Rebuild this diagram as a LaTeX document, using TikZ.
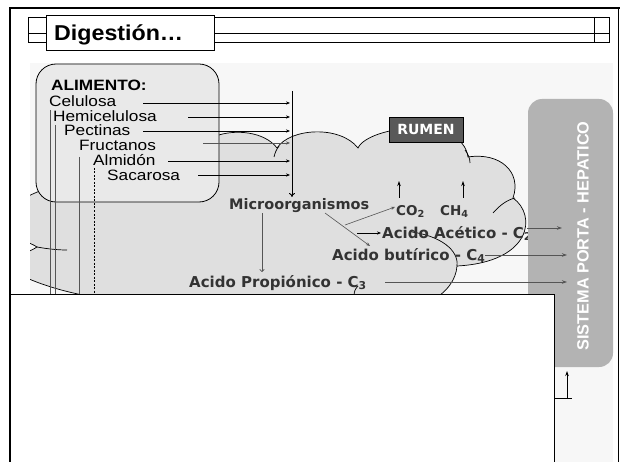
\documentclass[tikz,border=0pt]{standalone}
\usepackage{fontspec}
\usepackage{graphicx}
\usetikzlibrary{arrows.meta}
\newfontfamily\arialw{Liberation Sans}[FakeStretch=1.15]
\newfontfamily\arialt{Liberation Sans}[FakeStretch=1.08]
\newfontfamily\arialn{Liberation Sans}
\newfontfamily\verd{DejaVu Sans}
\definecolor{panel}{HTML}{F7F7F7}
\definecolor{boxfill}{HTML}{E9E9E9}
\definecolor{cloudfill}{HTML}{DFDFDF}
\definecolor{rumenfill}{HTML}{595959}
\definecolor{portafill}{HTML}{B3B3B3}
\definecolor{inkgray}{HTML}{333333}
\definecolor{linegray}{HTML}{555555}
\newcommand{\lowidx}[1]{\raisebox{-0.3ex}{\scalebox{0.72}{#1}}}
\tikzset{
  listtxt/.style={inner sep=0pt, anchor=base west, font=\arialw\fontsize{15}{16}\selectfont},
  acid/.style={inner sep=0pt, anchor=base west, text=inkgray, font=\verd\bfseries\fontsize{15}{17}\selectfont},
  feed/.style={draw=black, line width=0.7pt, -{Stealth[length=4pt,width=3.2pt]}},
  feedgray/.style={draw=linegray, line width=0.7pt, -{Stealth[length=4pt,width=3.2pt]}},
  drop/.style={draw=linegray, line width=0.7pt},
  cloudline/.style={draw=black, line width=0.7pt},
  outflow/.style={draw=linegray, line width=0.8pt, -{Stealth[length=5pt,width=3.5pt]}},
  gas/.style={draw=black, line width=0.9pt, -{Stealth[length=5pt,width=3.5pt]}},
}
\begin{document}
\begin{tikzpicture}[x=1pt,y=-1pt]
\useasboundingbox (0,0) rectangle (620,462);
\fill[white] (0,0) rectangle (620,462);

% slide panel
\fill[panel] (30,63) rectangle (613,462);

% slide frame
\draw[line width=1.2pt] (9,8) -- (620,8);
\draw[line width=2pt] (10,8) -- (10,462);
\draw[line width=0.8pt] (618.5,8) -- (618.5,462);

% title bar
\draw[line width=0.8pt] (28,17) rectangle (609,42);
\draw[line width=0.8pt] (28,33) -- (609,33);
\draw[line width=0.8pt] (594,17) -- (594,42);
\node[draw=black, line width=0.8pt, fill=white, minimum width=168pt, minimum height=35pt,
      inner sep=0pt] (title) at (130,32.5) {};
\node[inner sep=0pt, anchor=base west, font=\arialt\bfseries\fontsize{21.5}{24}\selectfont]
      (titletxt) at (54,41) {Digestión…};

% rumen cloud
\begin{scope}
\clip (30,63) rectangle (613,462);
\filldraw[cloudline, fill=cloudfill] (20,200) .. controls (60,180) and (170,140) .. (213,137)
  .. controls (235,128) and (265,132) .. (277,148)
  .. controls (290,128) and (340,125) .. (358,148)
  .. controls (368,126) and (462,114) .. (468,157)
  .. controls (500,152) and (522,172) .. (513,198)
  .. controls (537,215) and (532,262) .. (457,266)
  .. controls (456,280) and (447,292) .. (430,302)
  -- (300,320) -- (105,320) -- (100,298)
  .. controls (60,292) and (35,282) .. (20,275)
  -- (20,255) .. controls (28,252) and (34,249) .. (37,247)
  .. controls (34,245) and (28,242) .. (20,240) -- cycle;
\draw[cloudline] (274,157) .. controls (275,153) and (276,150) .. (279,146);
\draw[cloudline] (465,150) .. controls (468,154) and (470,158) .. (470,163);
\draw[cloudline] (493,213) .. controls (500,205) and (507,200) .. (515,198);
\draw[cloudline] (412,232) .. controls (440,236) and (459,250) .. (457,266);
\draw[cloudline] (354,296) .. controls (354,292) and (355,289) .. (358,286);
\draw[cloudline] (37,247) .. controls (48,249) and (58,250) .. (67,250);
\end{scope}

% feed box
\draw[line width=0.8pt, fill=boxfill, rounded corners=20pt] (36,64) rectangle (219,202);
\node[listtxt, font=\arialw\bfseries\fontsize{15}{16}\selectfont] (alim) at (51,91) {ALIMENTO:};
\node[listtxt] (cel) at (49,107) {Celulosa};
\node[listtxt] (hem) at (53,122) {Hemicelulosa};
\node[listtxt] (pec) at (64,136) {Pectinas};
\node[listtxt] (fru) at (79,151) {Fructanos};
\node[listtxt] (alm) at (93,166) {Almidón};
\node[listtxt] (sac) at (107,181) {Sacarosa};

% lines running down from the feed components
\coordinate (celD1) at (50,110);  \coordinate (celD2) at (50,300);
\coordinate (hemD1) at (55,125);  \coordinate (hemD2) at (55,300);
\coordinate (fruD1) at (79,157);  \coordinate (fruD2) at (79,300);
\coordinate (almD1) at (94,168);  \coordinate (almD2) at (94,300);
\draw[drop] (celD1) -- (celD2);
\draw[drop] (hemD1) -- (hemD2);
\draw[drop] (fruD1) -- (fruD2);
\draw[drop, dashed, dash pattern=on 2pt off 1.5pt, draw=black] (almD1) -- (almD2);

% feed arrows into the collector
\coordinate (busTop) at (292,91);
\coordinate (celA) at (143,103);  \coordinate (celB) at (290,103);
\coordinate (hemA) at (188,117);  \coordinate (hemB) at (290,117);
\coordinate (pecA) at (143,131);  \coordinate (pecB) at (290,131);
\coordinate (fruA) at (203,143);  \coordinate (fruB) at (290,143);
\coordinate (almA) at (168,161);  \coordinate (almB) at (290,161);
\coordinate (sacA) at (198,175);  \coordinate (sacB) at (290,175);
\draw[feed] (celA) -- (celB);
\draw[feed] (hemA) -- (hemB);
\draw[feed] (pecA) -- (pecB);
\draw[feedgray] (fruA) -- (fruB);
\draw[feed] (almA) -- (almB);
\draw[feed] (sacA) -- (sacB);
\coordinate (busEnd) at (292,197);
\draw[line width=0.9pt, -{To[length=4pt,width=6pt]}] (busTop) -- (busEnd);

% rumen label
\node[draw=black, line width=0.8pt, fill=rumenfill, text=white, minimum width=74pt,
      minimum height=25pt, inner sep=0pt, font=\verd\bfseries\fontsize{14}{16}\selectfont]
      (rumen) at (426,129.5) {RUMEN};

% fermentation products
\node[acid, font=\verd\bfseries\fontsize{14.5}{17}\selectfont] (mic) at (229,209) {Microorganismos};
\node[acid, font=\verd\bfseries\fontsize{13.5}{16}\selectfont] (co2) at (396,215) {CO\lowidx{2}};
\node[acid, font=\verd\bfseries\fontsize{13.5}{16}\selectfont] (ch4) at (440,215) {CH\lowidx{4}};
\node[acid] (ace) at (382,238) {Acido Acético - C\lowidx{2}};
\node[acid] (but) at (332,260) {Acido butírico - C\lowidx{4}};
\node[acid] (pro) at (189,287) {Acido Propiónico - C\lowidx{3}};

% arrows from the microorganisms
\coordinate (m1) at (262,213);  \coordinate (m1e) at (262,272);
\coordinate (m2) at (345,225);  \coordinate (m2e) at (395,207);
\coordinate (m3) at (325,213);  \coordinate (m3e) at (370,246);
\coordinate (m4) at (357,233);  \coordinate (m4e) at (381,233);
\draw[drop, -{To[length=3pt,width=5pt]}] (m1) -- (m1e);
\draw[feedgray, line width=0.6pt] (m2) -- (m2e);
\draw[feedgray, line width=0.6pt] (m3) -- (m3e);
\draw[feed, line width=0.7pt] (m4) -- (m4e);

% gases leaving
\coordinate (g1) at (399,198);  \coordinate (g1e) at (399,181);
\coordinate (g2) at (463,198);  \coordinate (g2e) at (463,181);
\draw[gas] (g1) -- (g1e);
\draw[gas] (g2) -- (g2e);

% portal system
\node[fill=portafill, rounded corners=14pt, minimum width=85pt, minimum height=268pt,
      inner sep=0pt] (porta) at (570.5,233) {};
\node[rotate=90, text=white, inner sep=0pt, font=\arialn\bfseries\fontsize{16.3}{18}\selectfont]
      (portatxt) at (583,236) {SISTEMA PORTA - HEPATICO};

% absorbed acids
\coordinate (aceO) at (527,228);  \coordinate (aceP) at (562,228);
\coordinate (butO) at (485,255);  \coordinate (butP) at (567,255);
\coordinate (proO) at (385,282);  \coordinate (proP) at (567,282);
\draw[outflow] (aceO) -- (aceP);
\draw[outflow] (butO) -- (butP);
\draw[outflow] (proO) -- (proP);

% lower panel
\node[draw=black, line width=1pt, fill=white, minimum width=544pt, minimum height=175pt,
      inner sep=0pt, anchor=north west] (lower) at (10,294) {};
\coordinate (retA) at (554,398);  \coordinate (retB) at (567,398);  \coordinate (retC) at (572,398);
\coordinate (retTop) at (567,371);
\draw[line width=1pt] (retA) -- (retC);
\draw[gas, line width=1pt] (retB) -- (retTop);
\end{tikzpicture}
\end{document}
